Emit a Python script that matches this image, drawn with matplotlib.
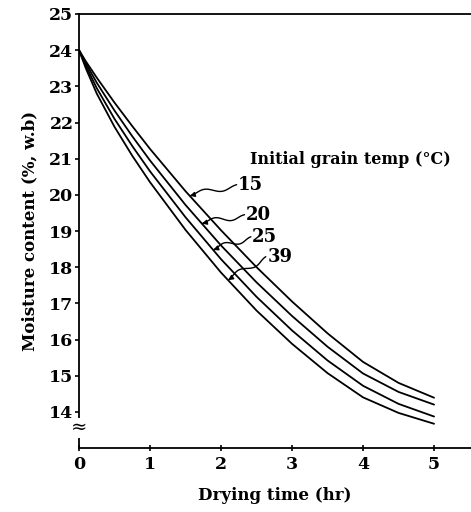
import numpy as np
import matplotlib
matplotlib.use("Agg")
import matplotlib.pyplot as plt
from matplotlib.path import Path
from matplotlib.patches import FancyArrowPatch

hours = [0, 0.1, 0.25, 0.5, 0.75, 1.0, 1.5, 2.0, 2.5, 3.0, 3.5, 4.0, 4.5, 5.0]
mc_15 = [24.0, 23.68, 23.24, 22.55, 21.9, 21.27, 20.1, 19.02, 18.0, 17.05, 16.17, 15.38, 14.8, 14.39]
mc_20 = [24.0, 23.62, 23.1, 22.33, 21.62, 20.95, 19.72, 18.6, 17.58, 16.65, 15.8, 15.06, 14.55, 14.2]
mc_25 = [24.0, 23.55, 22.95, 22.1, 21.35, 20.65, 19.38, 18.22, 17.18, 16.25, 15.42, 14.72, 14.22, 13.87]
mc_39 = [24.0, 23.48, 22.8, 21.88, 21.08, 20.35, 19.03, 17.85, 16.8, 15.88, 15.07, 14.4, 13.97, 13.67]
series = [("15", mc_15), ("20", mc_20), ("25", mc_25), ("39", mc_39)]
xticks = [0, 1, 2, 3, 4, 5]
yticks = list(range(14, 26))

serif = ["DejaVu Serif"]
plt.rcParams["font.family"] = serif

fig = plt.figure(figsize=(4.71, 5.12), dpi=100)
ax = fig.add_axes([79/471, 1-448/512, 1-79/471, (448-14)/512])
ax.set_xlim(0, 5.52)
ax.set_ylim(13.0, 25.0)

for name, ys in series:
    ax.plot(hours, ys, color="black", lw=1.3, solid_capstyle="round", solid_joinstyle="round")

ax.spines["right"].set_visible(False)
for s in ["left", "top", "bottom"]:
    ax.spines[s].set_linewidth(1.3)
ax.set_xticks(xticks)
ax.set_yticks(yticks)
ax.tick_params(axis="y", direction="out", length=3, width=1.2, labelsize=12.5, pad=1)
ax.tick_params(axis="x", direction="inout", length=5, width=1.2, labelsize=12.5, pad=3)
for lab in ax.get_xticklabels() + ax.get_yticklabels():
    lab.set_fontweight("bold")

ax.set_xlabel("Drying time (hr)", fontsize=12, fontweight="bold", labelpad=10)
ax.set_ylabel("Moisture content (%, w.b)", fontsize=12, fontweight="bold", labelpad=8)

# axis break mark
ax.text(0, 13.55, "\u2248", fontsize=14, ha="center", va="center",
        clip_on=False, bbox=dict(facecolor="white", edgecolor="none", pad=0.5))

ax.text(2.41, 20.97, "Initial grain temp (\u00b0C)", fontsize=11.5, fontweight="bold",
        ha="left", va="center")

tips_x = [1.56, 1.73, 1.89, 2.10]
label_pos = [(2.24, 20.28), (2.35, 19.45), (2.44, 18.84), (2.65, 18.29)]

fig.canvas.draw()
trans = ax.transData
inv = trans.inverted()
for (name, ys), tx, (lx, ly) in zip(series, tips_x, label_pos):
    ty = float(np.interp(tx, hours, ys))
    ax.text(lx, ly, name, fontsize=13, fontweight="bold", ha="left", va="center")
    p0 = trans.transform((lx - 0.02, ly))
    p1 = trans.transform((tx, ty))
    d = p1 - p0
    L = np.hypot(*d)
    u = d / L
    n = np.array([-u[1], u[0]])
    t = np.linspace(0, 1, 40)
    wig = 4.0 * np.sin(2 * np.pi * t) * np.sin(np.pi * t)
    pts = p0[None, :] + t[:, None] * d[None, :] + wig[:, None] * n[None, :]
    dpts = inv.transform(pts)
    path = Path(dpts)
    arr = FancyArrowPatch(path=path, arrowstyle="-|>", mutation_scale=7,
                          color="black", lw=1.0, transform=ax.transData)
    ax.add_patch(arr)

fig.savefig("out.png", dpi=100, facecolor="white")
